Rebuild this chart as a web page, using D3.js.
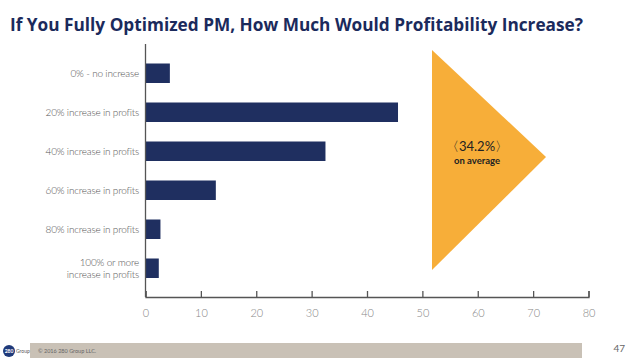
<!DOCTYPE html>
<html>
<head>
<meta charset="utf-8">
<script src="https://cdn.jsdelivr.net/npm/d3@7"></script>
<style>
  body { margin: 0; background: #fff; }
  svg { display: block; }
</style>
</head>
<body>
<svg id="chart" width="638" height="359"></svg>
<script>
// answer categories and share of respondents (%)
const categories = [
    "0% - no increase",
    "20% increase in profits",
    "40% increase in profits",
    "60% increase in profits",
    "80% increase in profits",
    "100% or more|increase in profits"
];
const values = [4.4, 45.6, 32.5, 12.7, 2.7, 2.4];
const xTicks = [0, 10, 20, 30, 40, 50, 60, 70, 80];
const averageLabel = "〈34.2%〉";
const averageSub = "on average";

const svg = d3.select("#chart");
const labelFont = "Lato, 'Open Sans', sans-serif";

// title
svg.append("text")
    .attr("x", 10)
    .attr("y", 31)
    .attr("textLength", 573)
    .attr("lengthAdjust", "spacingAndGlyphs")
    .attr("font-family", "'Open Sans', sans-serif")
    .attr("font-weight", "bold")
    .attr("font-size", 17.5)
    .attr("fill", "#1b2a5c")
    .text("If You Fully Optimized PM, How Much Would Profitability Increase?");

const x = d3.scaleLinear().domain([0, 80]).range([145.5, 588.5]);
const y = d3.scaleBand().domain(categories).range([44, 297.5]).padding(0.5);

// bars
svg.append("g").selectAll("rect")
    .data(values)
    .enter().append("rect")
    .attr("x", x(0))
    .attr("y", (d, i) => y(categories[i]))
    .attr("width", d => x(d) - x(0))
    .attr("height", y.bandwidth())
    .attr("fill", "#1f2f60");

// x axis, ticks pointing up
const xAxis = svg.append("g")
    .attr("transform", "translate(0,297)")
    .call(d3.axisBottom(x).tickValues(xTicks).tickSize(-6).tickPadding(12).tickFormat(d3.format("d")));
xAxis.select(".domain").attr("stroke", "#555").attr("stroke-width", 1.3);
xAxis.selectAll(".tick line").attr("stroke", "#555").attr("stroke-width", 1.3);
xAxis.selectAll(".tick text")
    .attr("font-family", labelFont)
    .attr("font-weight", 300)
    .attr("font-size", 11)
    .attr("fill", "#888");

// y axis line
svg.append("line")
    .attr("x1", x(0)).attr("x2", x(0))
    .attr("y1", 44).attr("y2", 297)
    .attr("stroke", "#555")
    .attr("stroke-width", 1.3);

// category labels
const lbl = svg.append("g").selectAll("text")
    .data(categories)
    .enter().append("text")
    .attr("x", 139)
    .attr("y", d => y(d) + y.bandwidth() / 2)
    .attr("text-anchor", "end")
    .attr("font-family", labelFont)
    .attr("font-weight", 300)
    .attr("font-size", 10)
    .attr("letter-spacing", -0.2)
    .attr("fill", "#555");
lbl.each(function(d) {
    const parts = d.split("|");
    const t = d3.select(this);
    parts.forEach((p, k) => {
        t.append("tspan")
            .attr("x", 139)
            .attr("dy", k === 0 ? (parts.length === 1 ? "0.35em" : "-0.25em") : "1.2em")
            .text(p);
    });
});

// average arrow
const tri = [[432, 50], [546, 157], [432, 270]];
svg.append("path")
    .attr("d", d3.line()(tri) + "Z")
    .attr("fill", "#f7ae39");

svg.append("text")
    .attr("x", 477).attr("y", 151)
    .attr("text-anchor", "middle")
    .attr("font-family", labelFont)
    .attr("font-size", 13)
    .attr("fill", "#222")
    .text(averageLabel);
svg.append("text")
    .attr("x", 477).attr("y", 164)
    .attr("text-anchor", "middle")
    .attr("font-family", labelFont)
    .attr("font-weight", "bold")
    .attr("font-size", 9.5)
    .attr("fill", "#222")
    .text(averageSub);

// footer
svg.append("rect")
    .attr("x", 30).attr("y", 343)
    .attr("width", 552).attr("height", 15)
    .attr("fill", "#c9c1b6");
svg.append("text")
    .attr("x", 38).attr("y", 353)
    .attr("font-family", labelFont)
    .attr("font-size", 5.5)
    .attr("fill", "#666")
    .text("© 2016 280 Group LLC.");
svg.append("circle")
    .attr("cx", 9).attr("cy", 351).attr("r", 6)
    .attr("fill", "#1f3a7a");
svg.append("text")
    .attr("x", 9).attr("y", 353)
    .attr("text-anchor", "middle")
    .attr("font-family", labelFont)
    .attr("font-weight", "bold")
    .attr("font-size", 5)
    .attr("fill", "#fff")
    .text("280");
svg.append("text")
    .attr("x", 16).attr("y", 353)
    .attr("font-family", labelFont)
    .attr("font-size", 5)
    .attr("fill", "#555")
    .text("Group");
svg.append("text")
    .attr("x", 625).attr("y", 352)
    .attr("text-anchor", "end")
    .attr("font-family", labelFont)
    .attr("font-size", 10)
    .attr("fill", "#666")
    .text("47");
</script>
</body>
</html>
